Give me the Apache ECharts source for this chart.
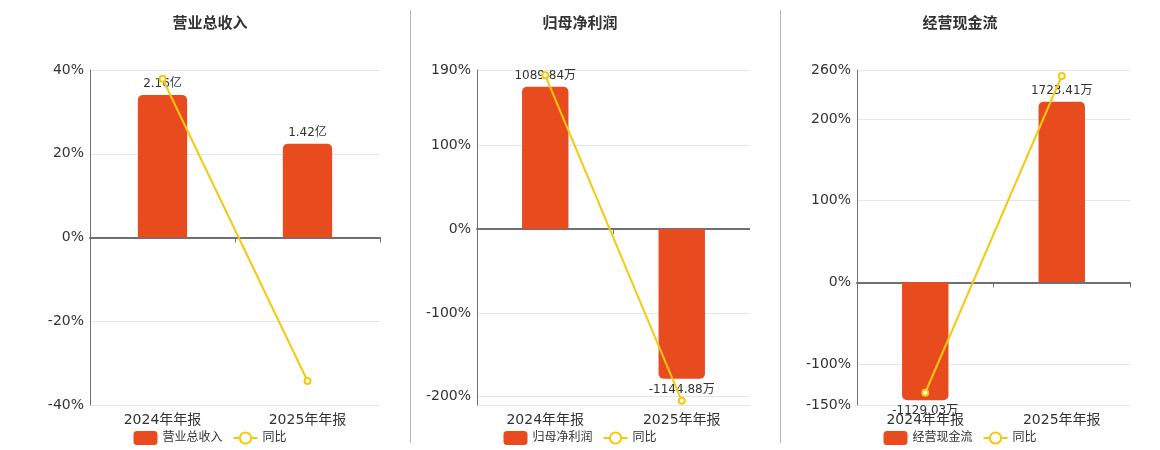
<!DOCTYPE html>
<html>
<head>
<meta charset="utf-8">
<script src="https://cdn.jsdelivr.net/npm/echarts@6/dist/echarts.min.js"></script>
<style>
  html, body { margin: 0; padding: 0; background: #fff; }
  #wrap { position: relative; width: 1160px; height: 450px; }
  .panel { position: absolute; top: 0; height: 450px; }
  .divider { position: absolute; top: 10px; width: 1px; height: 433px; background: #b5b5b5; }
</style>
</head>
<body>
<div id="wrap">
  <div class="panel" id="p1" style="left:10px;width:400px"></div>
  <div class="panel" id="p2" style="left:410px;width:340px"></div>
  <div class="panel" id="p3" style="left:780px;width:360px"></div>
  <div class="divider" style="left:410px"></div>
  <div class="divider" style="left:780px"></div>
</div>
<script>
// categories
const categories = ['2024年年报', '2025年年报'];

// 营业总收入 (亿) and its YoY (%)
const revenue = [2.16, 1.42];
const revenueYoY = [37.9, -34.26];

// 归母净利润 (万) and its YoY (%)
const netProfit = [1089.84, -1144.88];
const netProfitYoY = [183.7, -205.05];

// 经营现金流 (万) and its YoY (%)
const cashFlow = [-1129.03, 1723.41];
const cashFlowYoY = [-135.0, 252.64];

// axis ranges: percent axis and hidden bar axis
const revenuePct = [-40, 40];
const revenueBar = [-2.54, 2.54];
const netProfitPct = [-210, 190];
const netProfitBar = [-1345.7, 1217.5];
const cashFlowPct = [-150, 260];
const cashFlowBar = [-1175, 2027];

const FONT = "'DejaVu Sans', 'Noto Sans CJK SC', sans-serif";
const BAR_COLOR = '#E84B1D';
const LINE_COLOR = '#F5C90F';

function makePanel(id, cfg) {
	const chart = echarts.init(document.getElementById(id));
	const barData = cfg.bars.map(function (v) {
		const neg = v < 0;
		return {
			value: v,
			itemStyle: { borderRadius: neg ? [0, 0, 5, 5] : [5, 5, 0, 0] },
			label: { position: neg ? 'bottom' : 'top' }
		};
	});
	const option = {
		animation: false,
		textStyle: { fontFamily: FONT },
		title: {
			text: cfg.title,
			left: 'center',
			top: 12,
			textStyle: { fontSize: 15, fontWeight: 'bold', color: '#333', fontFamily: FONT }
		},
		legend: {
			left: 'center',
			top: 426,
			itemWidth: 24,
			itemHeight: 14,
			itemGap: 10,
			textStyle: { fontSize: 12, color: '#333', fontFamily: FONT },
			data: [cfg.name, '同比']
		},
		grid: { left: cfg.left, right: cfg.right, top: 70, bottom: 45 },
		xAxis: [
			{
				type: 'category',
				data: categories,
				position: 'bottom',
				axisLine: { show: false, onZero: false },
				axisTick: { show: false },
				axisLabel: { fontSize: 14, color: '#333', margin: 8, fontFamily: FONT }
			},
			{
				type: 'category',
				data: categories,
				position: 'top',
				axisLine: { show: true, onZero: true, onZeroAxisIndex: 0, lineStyle: { color: '#6E7079', width: 2 } },
				axisTick: { show: true, inside: true, length: 5, lineStyle: { color: '#6E7079' } },
				axisLabel: { show: false }
			}
		],
		yAxis: [
			{
				type: 'value',
				min: cfg.pct[0],
				max: cfg.pct[1],
				splitNumber: 5,
				axisLine: { show: true, lineStyle: { color: '#6E7079' } },
				axisTick: { show: false },
				axisLabel: { fontSize: 14, color: '#333', margin: 6, formatter: '{value}%', fontFamily: FONT },
				splitLine: { lineStyle: { color: '#E0E6F1' } }
			},
			{
				type: 'value',
				min: cfg.barRange[0],
				max: cfg.barRange[1],
				show: false,
				splitLine: { show: false }
			}
		],
		series: [
			{
				name: cfg.name,
				type: 'bar',
				xAxisIndex: 0,
				yAxisIndex: 1,
				barWidth: '34%',
				itemStyle: { color: BAR_COLOR },
				label: {
					show: true,
					distance: 5,
					fontSize: 12,
					color: '#333',
					fontFamily: FONT,
					formatter: function (p) { return p.value + cfg.unit; }
				},
				data: barData
			},
			{
				name: '同比',
				type: 'line',
				xAxisIndex: 0,
				yAxisIndex: 0,
				symbol: 'emptyCircle',
				symbolSize: 6,
				itemStyle: { color: LINE_COLOR },
				lineStyle: { color: LINE_COLOR, width: 2 },
				z: 3,
				data: cfg.yoy
			}
		]
	};
	chart.setOption(option);
}

makePanel('p1', {
	title: '营业总收入', name: '营业总收入', unit: '亿',
	bars: revenue, yoy: revenueYoY, pct: revenuePct, barRange: revenueBar,
	left: 80, right: 30
});
makePanel('p2', {
	title: '归母净利润', name: '归母净利润', unit: '万',
	bars: netProfit, yoy: netProfitYoY, pct: netProfitPct, barRange: netProfitBar,
	left: 67, right: 0
});
makePanel('p3', {
	title: '经营现金流', name: '经营现金流', unit: '万',
	bars: cashFlow, yoy: cashFlowYoY, pct: cashFlowPct, barRange: cashFlowBar,
	left: 77, right: 10
});
</script>
</body>
</html>
